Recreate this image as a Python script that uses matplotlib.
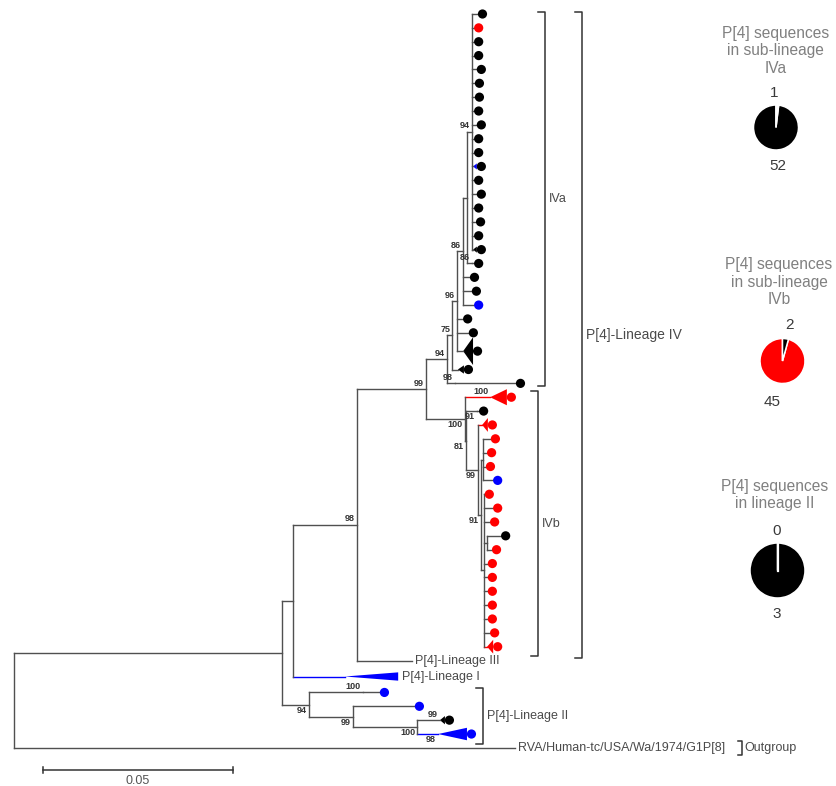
import matplotlib
matplotlib.use("Agg")
import matplotlib.pyplot as plt

plt.rcParams["font.family"] = ["Liberation Sans", "DejaVu Sans"]

# ---- tree data (depth = distance from root in substitutions/site) ----
inner_name = ["root", "ingroup", "n293", "n98", "n99", "A", "N75", "N96", "N86a", "Np",
              "N94", "N86c", "A2", "R", "R2", "N91t", "R3", "Rx", "Ry", "Rz", "Rb",
              "L2", "L2a", "L2b", "L2c"]
inner_parent = [None, "root", "ingroup", "n293", "n98", "n99", "A", "N75", "N96", "N86a",
                "Np", "Np", "A", "n99", "R", "R2", "R2", "R3", "Rx", "Rx", "Rz",
                "ingroup", "L2", "L2", "L2b"]
inner_depth = [0.0, 0.0705, 0.0734, 0.0903, 0.1084, 0.1139, 0.1153, 0.1166, 0.1182, 0.1192,
               0.1205, 0.1205, 0.1161, 0.1187, 0.1189, 0.1218, 0.1221, 0.1229, 0.1234, 0.1236,
               0.1245, 0.0776, 0.0918, 0.0892, 0.1061]

# tips, top to bottom
tip_name = ([f"a{i:02d}" for i in range(1, 28)] + [f"b{i:02d}" for i in range(1, 20)]
            + ["lin3", "lin1", "c1", "c2", "c3", "c4", "wa"])
tip_parent = (["N94"] * 18 + ["N86c", "N86a", "N86a", "N86a", "N96", "N96", "N96", "N75", "A2"]
              + ["R", "N91t", "R3", "Ry", "Ry", "Ry", "Ry", "Rz", "Rz", "Rz", "Rb", "Rb"]
              + ["Rz"] * 7
              + ["n98", "n293", "L2a", "L2b", "L2c", "L2c", "root"])
tip_depth = ([0.1221, 0.1211, 0.1211, 0.1211, 0.1218, 0.1213, 0.1213, 0.1211, 0.1218, 0.1211,
              0.1211, 0.1208, 0.1211, 0.1218, 0.1211, 0.1216, 0.1211, 0.1208, 0.1211, 0.1200,
              0.1205, 0.1211, 0.1182, 0.1197, 0.1182, 0.1168, 0.1321]
             + [0.1253, 0.1224, 0.1232, 0.1255, 0.1245, 0.1242, 0.1261, 0.1239, 0.1261, 0.1253,
                0.1282, 0.1258, 0.1247, 0.1247, 0.1247, 0.1247, 0.1247, 0.1253, 0.1245]
             + [0.1047, 0.0871, 0.0963, 0.1055, 0.1121, 0.1116, 0.1318])
tip_dot = list("krkkkkkkkkkkkkkkkkkkkbkkkkk" + "rkrrrrbrrrkrrrrrrrr" + "--bbkb-")
tip_text = {"lin3": "P[4]-Lineage III", "lin1": "P[4]-Lineage I",
            "wa": "RVA/Human-tc/USA/Wa/1974/G1P[8]"}

# collapsed sub-trees: tip depth is the node, value is the deepest member
collapsed_base = {"a12": 0.1218, "a18": 0.1218, "a25": 0.1208, "a26": 0.1184,
                  "b01": 0.1297, "b03": 0.1247, "b19": 0.1261,
                  "lin1": 0.1011, "c3": 0.1134, "c4": 0.1192}
clade_color = {"a12": "b", "b01": "r", "b03": "r", "b19": "r", "lin1": "b", "c4": "b"}

bootstrap = {"n98": ("98", "up"), "n99": ("99", "up"), "A": ("94", "up"), "A2": ("98", "up"),
             "N75": ("75", "up"), "N96": ("96", "up"), "N86a": ("86", "up"),
             "N86c": ("86", "up"), "N94": ("94", "up"), "R": ("100", "down"),
             "b01": ("100", "up"), "R2": ("81", "down"), "N91t": ("91", "down"),
             "R3": ("99", "down"), "Rx": ("91", "down"), "L2": ("94", "down"),
             "L2a": ("100", "up"), "L2b": ("99", "down"), "L2c": ("100", "down"),
             "c3": ("99", "up"), "c4": ("98", "down")}

# pies: sequences per sub-lineage (majority, minority)
pie_titles = ["P[4] sequences\nin sub-lineage\nIVa", "P[4] sequences\nin sub-lineage\nIVb",
              "P[4] sequences\nin lineage II"]
pie_counts = [[52, 1], [45, 2], [3, 0]]
pie_colors = [["black", "white"], ["red", "black"], ["black", "white"]]

# ---- layout ----
W, H = 836, 786
PX = 3800.0      # pixels per substitution/site
X0 = 14.0        # root position, px
ROW = 13.86      # pixels per tip row
Y0 = 14.0
COL = {"k": "black", "r": "#ff0000", "b": "#0000ff"}
LINE = "#505050"
TXT = "#4a4a4a"
row_h = {"a25": 1.65, "lin1": 1.3}
tri_half = {"a12": 0.22, "a18": 0.22, "a25": 1.0, "a26": 0.3, "b01": 0.58, "b03": 0.5,
            "b19": 0.5, "lin1": 0.3, "c3": 0.3, "c4": 0.45}


def px2x(px):
    return (px - X0) / PX


def px2y(py):
    return (py - Y0) / ROW


parent = dict(zip(inner_name, inner_parent))
parent.update(zip(tip_name, tip_parent))
depth = dict(zip(inner_name, inner_depth))
depth.update(zip(tip_name, tip_depth))

ypos = {}
pos, prev = 0.0, None
for n in tip_name:
    h = row_h.get(n, 1.0)
    if prev is not None:
        pos += (prev + h) / 2
    ypos[n] = pos
    prev = h

children = {n: [] for n in inner_name}
for n, p in parent.items():
    if p is not None:
        children[p].append(n)


def node_y(n):
    if n not in ypos:
        ys = [node_y(c) for c in children[n]]
        ypos[n] = (min(ys) + max(ys)) / 2
    return ypos[n]


node_y("root")

fig = plt.figure(figsize=(W / 100, H / 100), dpi=100)
ax = fig.add_axes([0, 0, 1, 1])
ax.set_xlim(px2x(0), px2x(W))
ax.set_ylim(px2y(H), px2y(0))
ax.axis("off")

# branches
for n, p in parent.items():
    if p is None:
        continue
    c = COL[clade_color[n]] if n in clade_color and n != "a12" else LINE
    ax.plot([depth[p], depth[n]], [ypos[n], ypos[n]], color=c, lw=1.0)
for n in inner_name:
    ys = [ypos[c] for c in children[n]]
    if len(ys) > 1:
        ax.plot([depth[n], depth[n]], [min(ys), max(ys)], color=LINE, lw=1.0)

# collapsed triangles
for n, base in collapsed_base.items():
    y, hh = ypos[n], tri_half[n]
    ax.fill([depth[n], base, base], [y, y - hh, y + hh],
            color=COL[clade_color.get(n, "k")], lw=0)

# tip dots
dx = 4.5 / PX
dots_x, dots_y, dots_c = [], [], []
for n, d in zip(tip_name, tip_dot):
    if d == "-":
        continue
    dots_x.append(collapsed_base.get(n, depth[n]) + dx)
    dots_y.append(ypos[n])
    dots_c.append(COL[d])
ax.scatter(dots_x, dots_y, s=44, c=dots_c, linewidths=0, zorder=3)

# tip labels
for n, t in tip_text.items():
    ax.text(collapsed_base.get(n, depth[n]) + 3.5 / PX, ypos[n], t, fontsize=9,
            color=TXT, va="center", ha="left")

# bootstrap values
for n, (v, side) in bootstrap.items():
    up = side == "up"
    ax.annotate(v, (depth[n], ypos[n]), xytext=(-1.5, 1.0 if up else -1.0),
                textcoords="offset points", ha="right", va="bottom" if up else "top",
                fontsize=6.5, fontweight="bold", color="#333333")


def bracket(x_px, y0, y1, tick_px=7, label=None, lab_px=4, size=9):
    x, t = px2x(x_px), tick_px / PX
    ax.plot([x - t, x, x, x - t], [y0, y0, y1, y1], color="#333333", lw=1.1)
    if label:
        ax.text(x + lab_px / PX, (y0 + y1) / 2, label, fontsize=size, color=TXT,
                va="center", ha="left")


bracket(545, ypos["a01"] - 0.15, ypos["a27"] + 0.2, label="IVa")
bracket(538, ypos["b01"] - 0.45, ypos["b19"] + 0.7, label="IVb")
bracket(582, ypos["a01"] - 0.15, ypos["b19"] + 0.8, label="P[4]-Lineage IV", size=10)
bracket(483, ypos["c1"] - 0.3, ypos["c4"] + 0.75, label="P[4]-Lineage II")
bracket(742, ypos["wa"] - 0.5, ypos["wa"] + 0.5, tick_px=4, label="Outgroup", lab_px=2)

# scale bar
sb_x, sb_y = px2x(43), px2y(770)
ax.plot([sb_x, sb_x + 0.05], [sb_y, sb_y], color="#333333", lw=1.1)
for xx in (sb_x, sb_x + 0.05):
    ax.plot([xx, xx], [sb_y - 0.2, sb_y + 0.2], color="#333333", lw=1.1)
ax.text(sb_x + 0.025, px2y(781), "0.05", fontsize=9, color="#555555", ha="center", va="center")

# pies
pie_geom = [(776, 127.5, 22.5), (782.5, 361, 22.5), (777.5, 570.5, 27.5)]
title_xy = [(775.5, 51), (779, 282), (775, 495)]
top_lab = [(774, 93), (789, 325), (777, 531)]
bot_lab = [(778, 166), (772, 402), (777, 614)]
for i, (cx, cy, r) in enumerate(pie_geom):
    pa = fig.add_axes([(cx - r) / W, 1 - (cy + r) / H, 2 * r / W, 2 * r / H])
    pa.pie(pie_counts[i], colors=pie_colors[i], startangle=90, counterclock=True,
           wedgeprops=dict(edgecolor="white", linewidth=1.1))
    if 0 in pie_counts[i]:
        pa.plot([0, 0], [0, 1], color="white", lw=1.6)
    pa.set_xlim(-1, 1)
    pa.set_ylim(-1, 1)
    fig.text(title_xy[i][0] / W, 1 - title_xy[i][1] / H, pie_titles[i], fontsize=11.2,
             color="#808080", ha="center", va="center", linespacing=1.22)
    fig.text(top_lab[i][0] / W, 1 - top_lab[i][1] / H, str(pie_counts[i][1]), fontsize=11,
             color="#3a3a3a", ha="center", va="center")
    fig.text(bot_lab[i][0] / W, 1 - bot_lab[i][1] / H, str(pie_counts[i][0]), fontsize=11,
             color="#3a3a3a", ha="center", va="center")

fig.savefig("out.png", dpi=100)
